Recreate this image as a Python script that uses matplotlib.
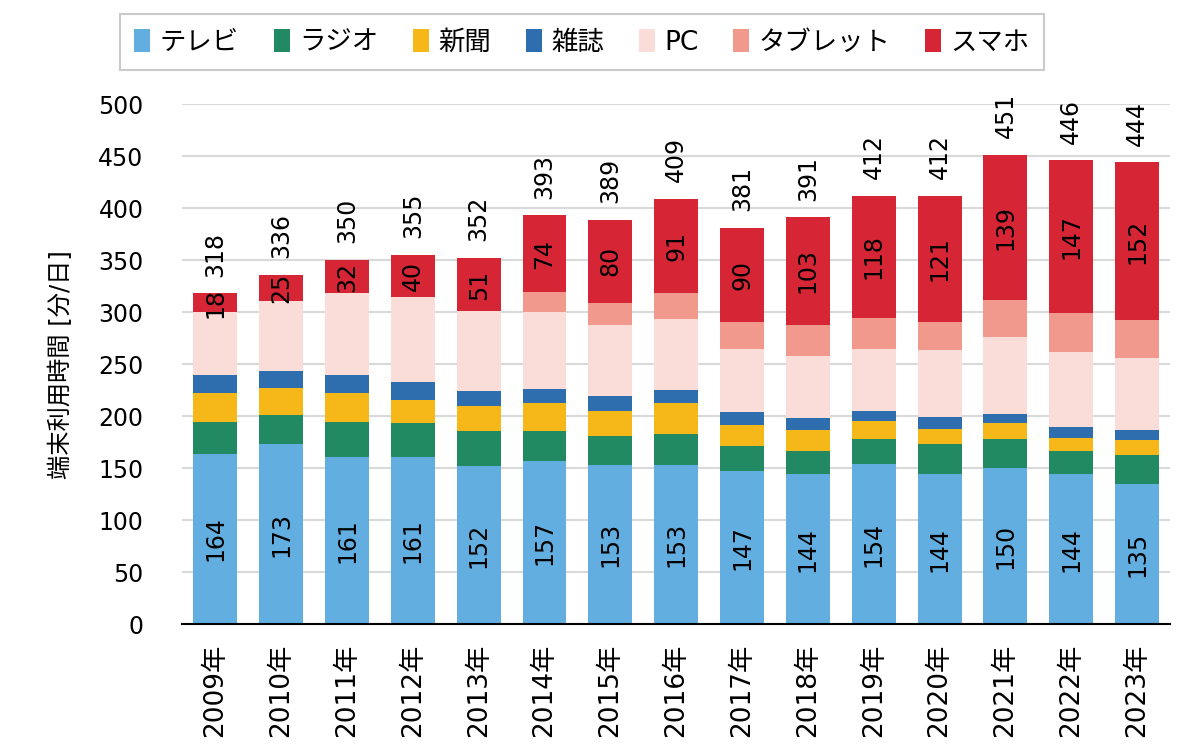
import matplotlib
matplotlib.use('Agg')
import matplotlib.pyplot as plt
import numpy as np

plt.rcParams['font.family'] = ['DejaVu Sans', 'Noto Sans CJK JP']

years = ['2009年', '2010年', '2011年', '2012年', '2013年', '2014年', '2015年', '2016年',
         '2017年', '2018年', '2019年', '2020年', '2021年', '2022年', '2023年']

tv       = [164, 173, 161, 161, 152, 157, 153, 153, 147, 144, 154, 144, 150, 144, 135]
radio    = [30, 28, 33, 32, 34, 29, 28, 30, 24, 23, 24, 29, 28, 23, 28]
paper    = [28, 26, 28, 23, 24, 27, 24, 30, 21, 20, 17, 15, 15, 12, 14]
magazine = [18, 16, 18, 17, 14, 13, 14, 12, 12, 11, 10, 11, 9, 11, 10]
pc       = [60, 68, 78, 82, 77, 74, 69, 68, 61, 60, 60, 65, 74, 72, 69]
tablet   = [0, 0, 0, 0, 0, 19, 21, 25, 26, 30, 29, 27, 36, 37, 36]
phone    = [18, 25, 32, 40, 51, 74, 80, 91, 90, 103, 118, 121, 139, 147, 152]

names = ['テレビ', 'ラジオ', '新聞', '雑誌', 'PC', 'タブレット', 'スマホ']
colors = ['#62AEE0', '#218A62', '#F6B719', '#2F6EAE', '#FADCD9', '#F0998C', '#D62535']
series = [tv, radio, paper, magazine, pc, tablet, phone]

fig = plt.figure(figsize=(12, 7.54), dpi=100)
ax = fig.add_axes([0.152, 0.172, 0.823, 0.69])

x = np.arange(len(years))
bottom = np.zeros(len(years))
bars = []
for vals, name, c in zip(series, names, colors):
    b = ax.bar(x, vals, 0.667, bottom=bottom, color=c, label=name, zorder=3)
    bars.append(b)
    bottom = bottom + np.array(vals)

# labels inside tv and smartphone segments
ax.bar_label(bars[0], labels=[str(v) for v in tv], label_type='center',
             rotation=90, fontsize=17, zorder=4)
ax.bar_label(bars[6], labels=[str(v) for v in phone], label_type='center',
             rotation=90, fontsize=17, zorder=4)

# totals above bars
for i, tot in enumerate(bottom):
    ax.annotate(str(int(tot)), (x[i], tot), xytext=(0, 12), textcoords='offset points',
                ha='center', va='bottom', rotation=90, fontsize=17)

ax.set_xlim(-0.5, len(years) - 0.5)
ax.set_ylim(0, 500)
ax.set_yticks(range(0, 501, 50))
ax.set_xticks(x)
ax.set_xticklabels(years, rotation=90, fontsize=19)
ax.tick_params(axis='y', labelsize=17, length=0, pad=28)
ax.tick_params(axis='x', length=0, pad=14)
ax.yaxis.grid(True, color='#D9D9D9', linewidth=1.5, zorder=0)
for s in ['top', 'right', 'left']:
    ax.spines[s].set_visible(False)
ax.spines['bottom'].set_linewidth(1.5)
ax.spines['bottom'].set_zorder(5)

ax.set_ylabel('端末利用時間 [分/日]', fontsize=17.5, labelpad=18)

leg = fig.legend(loc='center', bbox_to_anchor=(0.485, 0.944), ncol=7, fontsize=19,
                 frameon=True, fancybox=False, edgecolor='#BFBFBF',
                 handlelength=0.6, handleheight=1.0, handletextpad=0.35,
                 columnspacing=1.33, borderpad=0.55, borderaxespad=0)
leg.get_frame().set_linewidth(1.5)

fig.savefig('out.png', dpi=100)
